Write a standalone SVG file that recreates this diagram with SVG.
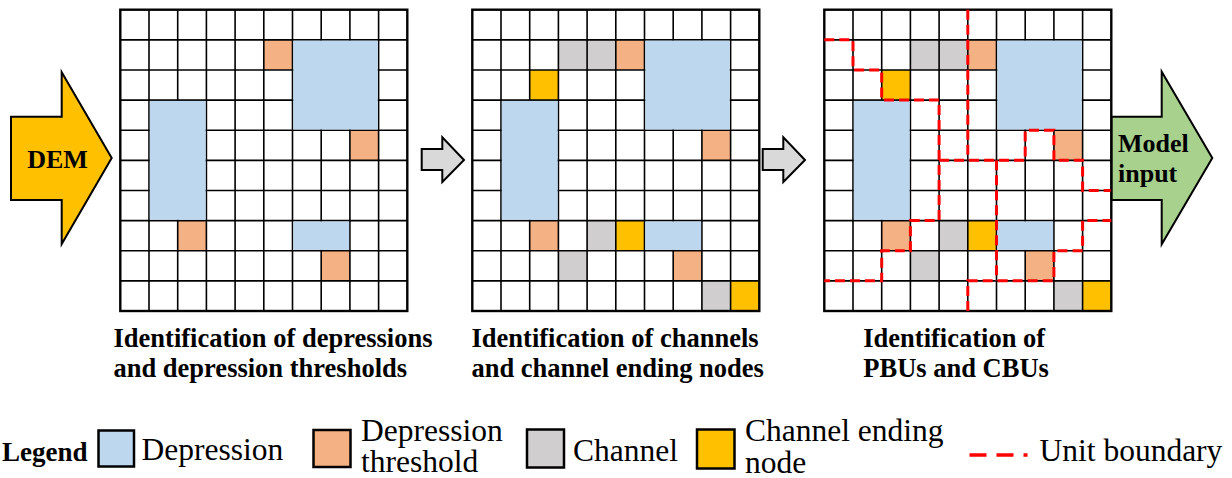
<svg xmlns="http://www.w3.org/2000/svg" xmlns:xlink="http://www.w3.org/1999/xlink" width="1232" height="478" viewBox="0 0 1232 478">
<style>
.bg{fill:#ffffff}
.dep{fill:#BDD7EE}
.thr{fill:#F4B183}
.chn{fill:#D0CECE}
.end{fill:#FFC000}
.gl{stroke:#000;stroke-width:1.6;fill:none}
.border{stroke:#000;stroke-width:2.4;fill:none}
.ub{stroke:#FF0000;stroke-width:3;fill:none;stroke-dasharray:10 5}
.arrowBig{stroke:#000;stroke-width:2;stroke-linejoin:miter}
.arrowSmall{fill:#D9D9D9;stroke:#000;stroke-width:2;stroke-linejoin:miter}
.bold{font-family:"Liberation Serif","Times New Roman",serif;font-weight:bold;fill:#000}
.cap{font-size:26.5px}
.lg{font-family:"Liberation Serif","Times New Roman",serif;font-size:31.5px;fill:#000}
.lbox{stroke:#000;stroke-width:2.5}
</style>
<defs>
<path id="gridlines" class="gl" d="M28.7 0V301.3M57.4 0V301.3M86.1 0V301.3M114.8 0V301.3M143.5 0V301.3M172.2 0V301.3M200.9 0V301.3M229.6 0V301.3M258.3 0V301.3M0 30.13H287M0 60.26H287M0 90.39H287M0 120.52H287M0 150.65H287M0 180.78H287M0 210.91H287M0 241.04H287M0 271.17H287"/>
<g id="depressions">
<rect class="dep" x="173" y="30.93" width="84.5" height="88.79"/>
<rect class="dep" x="29.5" y="91.19" width="55.8" height="118.92"/>
<rect class="dep" x="173" y="211.71" width="55.8" height="28.53"/>
</g>
<g id="thresholds">
<rect class="thr" x="143.5" y="30.13" width="28.7" height="30.13"/>
<rect class="thr" x="229.6" y="120.52" width="28.7" height="30.13"/>
<rect class="thr" x="57.4" y="210.91" width="28.7" height="30.13"/>
<rect class="thr" x="200.9" y="241.04" width="28.7" height="30.13"/>
</g>
<g id="channels">
<rect class="chn" x="86.1" y="30.13" width="28.7" height="30.13"/>
<rect class="chn" x="114.8" y="30.13" width="28.7" height="30.13"/>
<rect class="chn" x="114.8" y="210.91" width="28.7" height="30.13"/>
<rect class="chn" x="86.1" y="241.04" width="28.7" height="30.13"/>
<rect class="chn" x="229.6" y="271.17" width="28.7" height="30.13"/>
<rect class="end" x="57.4" y="60.26" width="28.7" height="30.13"/>
<rect class="end" x="143.5" y="210.91" width="28.7" height="30.13"/>
<rect class="end" x="258.3" y="271.17" width="28.7" height="30.13"/>
</g>
</defs>

<g id="dem">
<polygon class="arrowBig" fill="#FFC000" points="11,116.7 61.7,116.7 61.7,72.3 111.7,158 61.7,244 61.7,200 11,200"/>
<text class="bold" x="57.5" y="167.5" font-size="26" text-anchor="middle">DEM</text>
</g>

<g id="grid-1" transform="translate(120.3,9.7)">
<rect class="bg" x="0" y="0" width="287" height="301.3"/>
<use xlink:href="#thresholds"/>
<use xlink:href="#gridlines"/>
<use xlink:href="#depressions"/>
<rect class="border" x="0" y="0" width="287" height="301.3"/>
</g>

<g id="grid-2" transform="translate(472.3,9.7)">
<rect class="bg" x="0" y="0" width="287" height="301.3"/>
<use xlink:href="#thresholds"/>
<use xlink:href="#channels"/>
<use xlink:href="#gridlines"/>
<use xlink:href="#depressions"/>
<rect class="border" x="0" y="0" width="287" height="301.3"/>
</g>

<g id="grid-3" transform="translate(824.3,9.7)">
<rect class="bg" x="0" y="0" width="287" height="301.3"/>
<use xlink:href="#thresholds"/>
<use xlink:href="#channels"/>
<use xlink:href="#gridlines"/>
<use xlink:href="#depressions"/>
<rect class="border" x="0" y="0" width="287" height="301.3"/>
<g id="unit-boundaries">
<polyline class="ub" points="0,30.13 28.7,30.13 28.7,60.26 57.4,60.26 57.4,90.39 114.8,90.39 114.8,210.91 86.1,210.91 86.1,241.04 57.4,241.04 57.4,271.17 0,271.17"/>
<polyline class="ub" points="143.5,0 143.5,150.65"/>
<polyline class="ub" points="114.8,150.65 200.9,150.65 200.9,120.52 229.6,120.52 229.6,150.65 258.3,150.65 258.3,180.78 287,180.78"/>
<polyline class="ub" points="172.2,150.65 172.2,271.17"/>
<polyline class="ub" points="143.5,301.3 143.5,271.17 229.6,271.17 229.6,241.04 258.3,241.04 258.3,210.91 287,210.91"/>
</g>
</g>

<g id="connectors">
<polygon class="arrowSmall" points="421.7,149 442.3,149 442.3,137.3 464,160 442.3,182 442.3,170 421.7,170"/>
<polygon class="arrowSmall" points="762.7,149 783.3,149 783.3,137.3 805,160 783.3,182 783.3,170 762.7,170"/>
</g>

<g id="model-input">
<polygon class="arrowBig" fill="#A9D18E" points="1111.7,116.7 1161.7,116.7 1161.7,71.7 1212.3,158 1161.7,244.3 1161.7,200 1111.7,200"/>
<text class="bold" x="1118" y="151.5" font-size="26">Model</text>
<text class="bold" x="1118" y="181.5" font-size="26">input</text>
</g>

<g id="captions">
<text class="bold cap" x="113.5" y="347">Identification of depressions</text>
<text class="bold cap" x="113.5" y="377">and depression thresholds</text>
<text class="bold cap" x="471.5" y="347">Identification of channels</text>
<text class="bold cap" x="471.5" y="377">and channel ending nodes</text>
<text class="bold cap" x="863.3" y="347">Identification of</text>
<text class="bold cap" x="863.3" y="377">PBUs and CBUs</text>
</g>

<g id="legend">
<text class="bold" x="2" y="461" font-size="27">Legend</text>
<rect class="lbox dep" x="98.5" y="430.5" width="35.5" height="36"/>
<text class="lg" x="141.5" y="459.5">Depression</text>
<rect class="lbox thr" x="313.5" y="430" width="37" height="37"/>
<text class="lg" x="361" y="440.5">Depression</text>
<text class="lg" x="361" y="472">threshold</text>
<rect class="lbox chn" x="527" y="429.5" width="37" height="38"/>
<text class="lg" x="573" y="461">Channel</text>
<rect class="lbox end" x="697" y="429.5" width="37.5" height="39"/>
<text class="lg" x="745" y="441">Channel ending</text>
<text class="lg" x="745" y="472.5">node</text>
<line x1="969.5" y1="455" x2="1027.5" y2="455" stroke="#FF0000" stroke-width="3.5" stroke-dasharray="17 10"/>
<text class="lg" x="1039.5" y="461">Unit boundary</text>
</g>
</svg>
